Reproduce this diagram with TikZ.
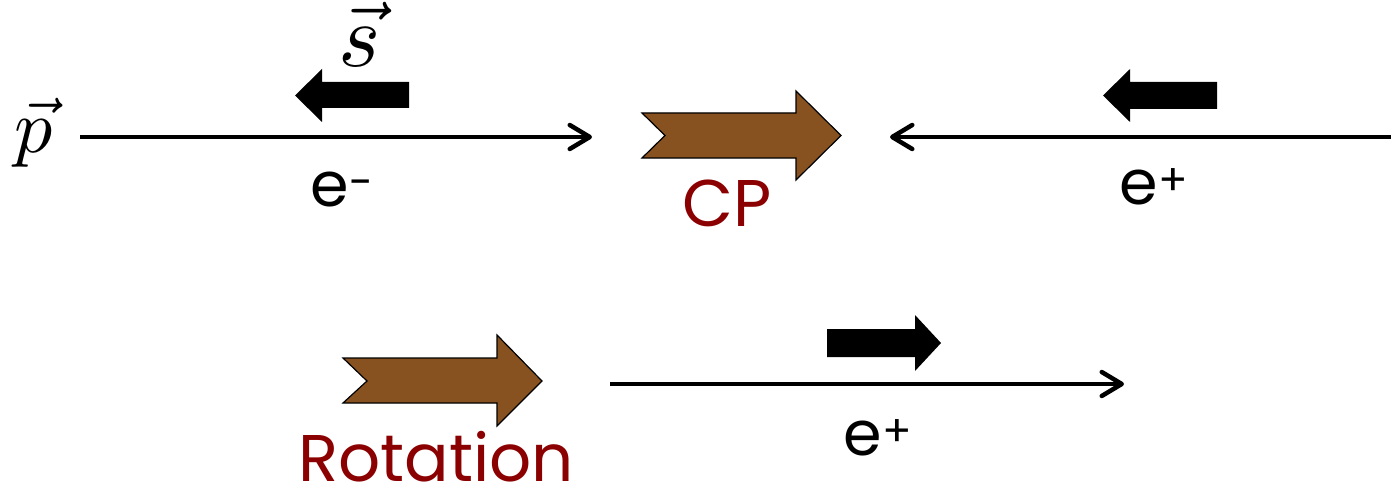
\documentclass[tikz,border=0pt]{standalone}
\usepackage{fontspec}
\newfontfamily\lblfont{Poppins}
\usetikzlibrary{arrows.meta}
\definecolor{brownfill}{RGB}{136,82,32}
\definecolor{darkred}{RGB}{139,0,0}
\tikzset{
  thinline/.style={line width=4.5pt, -{Straight Barb[length=20pt,width=24pt,line cap=round,round]}},
  blockarrow/.style={fill=black},
  brownarrow/.style={fill=brownfill, draw=black, line width=1.2pt, line join=miter},
  elabel/.style={font=\lblfont\fontsize{62}{70}\selectfont, text=black, inner sep=0pt},
  redlabel/.style={font=\lblfont\fontsize{66}{74}\selectfont, text=darkred, inner sep=0pt},
  vlabel/.style={scale=7.6, inner sep=0pt}
}
\begin{document}
\begin{tikzpicture}[x=1pt,y=-1pt]
\useasboundingbox[fill=white] (0,0) rectangle (1391,492);
% vector labels
\node[vlabel] (p) at (34,133) {$\vec{p}$};
\node[scale=9, inner sep=0pt] (s) at (360,34) {$\vec{s}$};
% lines
\coordinate (l1a) at (80,137);
\coordinate (l1b) at (592,137);
\coordinate (l2a) at (1391,137);
\coordinate (l2b) at (890,137);
\coordinate (l3a) at (610,384);
\coordinate (l3b) at (1124,384);
\draw[thinline] (l1a) -- (l1b);
\draw[thinline] (l2a) -- (l2b);
\draw[thinline] (l3a) -- (l3b);
% black spin arrows
\fill[blockarrow] (295,95.5) -- (322,69) -- (322,82) -- (409,82) -- (409,108) -- (322,108) -- (322,122) -- cycle;
\fill[blockarrow] (1103,95.5) -- (1130,69) -- (1130,82) -- (1217,82) -- (1217,109) -- (1130,109) -- (1130,122) -- cycle;
\fill[blockarrow] (941,343) -- (915,315) -- (915,329) -- (827,329) -- (827,357) -- (915,357) -- (915,371) -- cycle;
% brown arrows
\draw[brownarrow] (642,113) -- (796,113) -- (796,91) -- (841,135.5) -- (796,180) -- (796,158) -- (642,158) -- (665,135.5) -- cycle;
\draw[brownarrow] (343,358) -- (497,358) -- (497,335) -- (542,381) -- (497,426) -- (497,403) -- (343,403) -- (367,381) -- cycle;
% labels
\node[elabel] (em) at (342,190) {e\textsuperscript{-}};
\node[elabel] (ep1) at (1154,187) {e\textsuperscript{+}};
\node[elabel] (ep2) at (878,438) {e\textsuperscript{+}};
\node[redlabel] (cp) at (727,203) {CP};
\node[redlabel] (rot) at (436,457) {Rotation};
\end{tikzpicture}
\end{document}
